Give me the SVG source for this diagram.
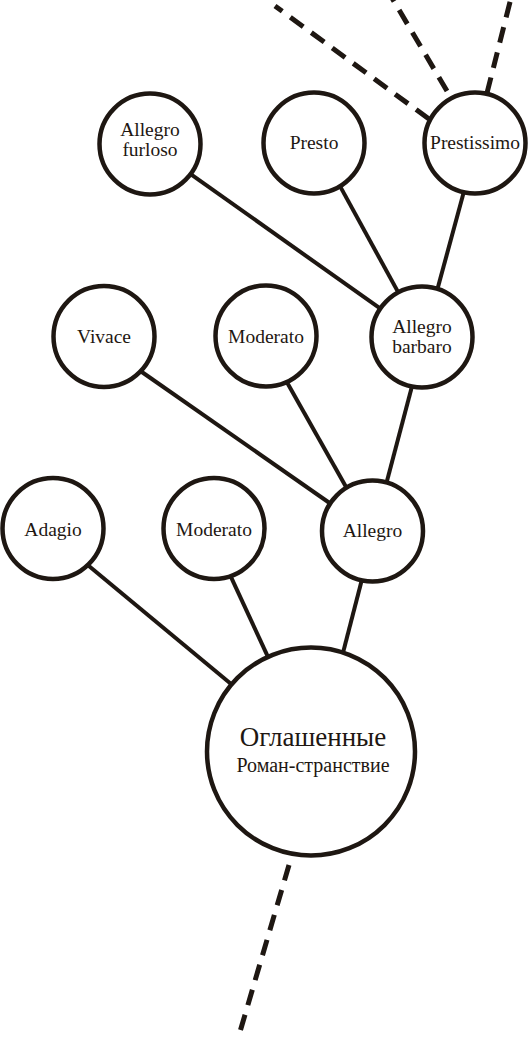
<svg xmlns="http://www.w3.org/2000/svg" width="528" height="1038" viewBox="0 0 528 1038">
<style>
.e{stroke:#1e1712;stroke-width:4;fill:none;stroke-linecap:butt}
.d{stroke:#1e1712;stroke-width:5;fill:none;stroke-dasharray:16 10}
.n{fill:#fff;stroke:#1e1712;stroke-width:4.5}
.t{font-family:"Liberation Serif","DejaVu Serif",serif;font-size:19.5px;fill:#1e1712;text-anchor:middle}
.big{font-size:27px}
.sub{font-size:20px}
</style>
<rect width="528" height="1038" fill="#fff"/>
<g id="connectors">
<line class="e" x1="87.7" y1="565" x2="232.3" y2="685"/>
<line class="e" x1="230.7" y1="576.3" x2="268.3" y2="657.7"/>
<line class="e" x1="361.8" y1="580" x2="343.2" y2="652"/>
<line class="e" x1="139" y1="370" x2="331" y2="504"/>
<line class="e" x1="286.5" y1="381.4" x2="347.5" y2="489.6"/>
<line class="e" x1="411.8" y1="387" x2="386.2" y2="484"/>
<line class="e" x1="189.6" y1="173.3" x2="380.4" y2="308.7"/>
<line class="e" x1="339.6" y1="185.4" x2="398.4" y2="292.6"/>
<line class="e" x1="463.8" y1="192" x2="437.2" y2="290"/>
<line class="d" x1="429" y1="119" x2="275" y2="6"/>
<line class="d" x1="447" y1="91" x2="392" y2="-2"/>
<line class="d" x1="487" y1="93" x2="511" y2="-2"/>
<line class="d" x1="289" y1="865" x2="237" y2="1042"/>
</g>
<g id="n-furloso"><circle class="n" cx="150" cy="144" r="50.5"/><text class="t" x="150" y="136">Allegro</text><text class="t" x="150" y="156">furloso</text></g>
<g id="n-presto"><circle class="n" cx="314" cy="143" r="50.5"/><text class="t" x="314" y="149">Presto</text></g>
<g id="n-prestissimo"><circle class="n" cx="475" cy="143" r="50.5"/><text class="t" x="475" y="149">Prestissimo</text></g>
<g id="n-vivace"><circle class="n" cx="104" cy="336.5" r="50.5"/><text class="t" x="104" y="343">Vivace</text></g>
<g id="n-moderato1"><circle class="n" cx="266" cy="336" r="50.5"/><text class="t" x="266" y="343">Moderato</text></g>
<g id="n-barbaro"><circle class="n" cx="422" cy="337" r="50.5"/><text class="t" x="422" y="333">Allegro</text><text class="t" x="422" y="353">barbaro</text></g>
<g id="n-adagio"><circle class="n" cx="53" cy="528.5" r="50.5"/><text class="t" x="53" y="536">Adagio</text></g>
<g id="n-moderato2"><circle class="n" cx="214" cy="528.5" r="50.5"/><text class="t" x="214" y="536">Moderato</text></g>
<g id="n-allegro"><circle class="n" cx="372.5" cy="531" r="50.5"/><text class="t" x="372.5" y="537">Allegro</text></g>
<g id="n-main"><circle class="n" cx="311" cy="751.5" r="104"/><text class="t big" x="313" y="746">Оглашенные</text><text class="t sub" x="313" y="772">Роман-странствие</text></g>
</svg>
